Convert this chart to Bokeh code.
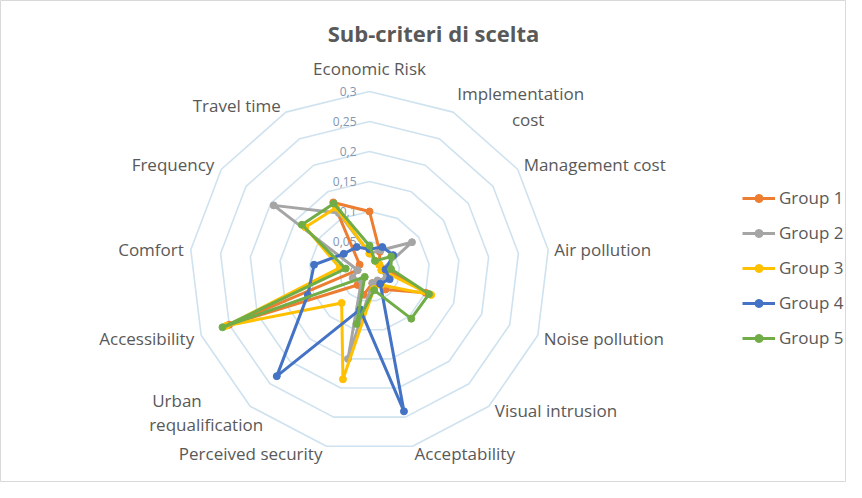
import numpy as np
from bokeh.plotting import figure
from bokeh.models import Range1d, Label, Legend, LegendItem
from bokeh.core.properties import value
from bokeh.embed import file_html
from bokeh.resources import INLINE

title_text = "Sub-criteri di scelta"
categories = ["Economic Risk", "Implementation\ncost", "Management  cost", "Air pollution",
              "Noise pollution", "Visual intrusion", "Acceptability", "Perceived security",
              "Urban\nrequalification", "Accessibility", "Comfort", "Frequency", "Travel time"]
group_names = ["Group 1", "Group 2", "Group 3", "Group 4", "Group 5"]
group_colors = ["#ED7D31", "#A5A5A5", "#FFC000", "#4472C4", "#70AD47"]
tick_values = [0, 0.05, 0.1, 0.15, 0.2, 0.25, 0.3]
tick_labels = ["0", "0,05", "0,1", "0,15", "0,2", "0,25", "0,3"]

#          ER     IC     MC     AP     NP     VI     AC     PS     UR     ACC    COM    FR     TT
group1 = [0.100, 0.037, 0.020, 0.030, 0.100, 0.040, 0.020, 0.040, 0.030, 0.250, 0.020, 0.020, 0.130]
group2 = [0.030, 0.040, 0.086, 0.020, 0.030, 0.020, 0.020, 0.150, 0.020, 0.030, 0.020, 0.194, 0.110]
group3 = [0.030, 0.020, 0.020, 0.020, 0.110, 0.030, 0.030, 0.185, 0.070, 0.255, 0.050, 0.130, 0.120]
group4 = [0.037, 0.046, 0.048, 0.027, 0.036, 0.027, 0.240, 0.065, 0.233, 0.110, 0.093, 0.052, 0.046]
group5 = [0.043, 0.020, 0.044, 0.036, 0.106, 0.105, 0.032, 0.090, 0.012, 0.262, 0.040, 0.137, 0.128]
groups = [group1, group2, group3, group4, group5]

W, H = 846, 482
scale = 600.0  # px per unit
cx_px, cy_px = 369, 271  # centre in figure pixels from top-left

p = figure(width=W, height=H, output_backend="svg", toolbar_location=None,
           x_range=Range1d(-cx_px / scale, (W - cx_px) / scale),
           y_range=Range1d(-(H - cy_px) / scale, cy_px / scale),
           min_border=0, background_fill_color="white", border_fill_color="white")
p.axis.visible = False
p.grid.visible = False
p.outline_line_color = "#d9d9d9"
p.outline_line_width = 1

n = len(categories)
theta = np.arange(n) * 2 * np.pi / n
sx, sy = np.sin(theta), np.cos(theta)

# rings
for tv in tick_values[1:]:
    xs = list(tv * sx) + [tv * sx[0]]
    ys = list(tv * sy) + [tv * sy[0]]
    p.line(xs, ys, line_color="#cfe2ef", line_width=1.6)

# tick labels
p.text(x=[0] * len(tick_values), y=tick_values, text=tick_labels, text_align="right",
       text_baseline="middle", x_offset=-13, text_font=value("Open Sans"),
       text_font_size="12px", text_color="#8496b0")

# category labels: (align, x offset px, y offset px)
label_style = [("center", 0, -23), ("left", 4, 0), ("left", 6, -5), ("left", 6, 0),
               ("left", 6, 3), ("left", 6, 4), ("left", 2, 7), ("right", -4, 7),
               ("left", -98, 0), ("right", -7, 3), ("right", -7, 0), ("right", -7, -5),
               ("right", -5, -7)]
FS = "17px"
rmax = tick_values[-1]
for k, name in enumerate(categories):
    x, y = rmax * sx[k], rmax * sy[k]
    align, xo, yo = label_style[k]
    lines = name.split("\n")
    if len(lines) == 2:
        if sx[k] > 0:
            p.text(x=[x], y=[y], text=[lines[0]], text_align="left", text_baseline="middle",
                   x_offset=xo, y_offset=-19, text_font=value("Open Sans"),
                   text_font_size=FS, text_color="#595959")
            p.text(x=[x], y=[y], text=[lines[1]], text_align="center", text_baseline="middle",
                   x_offset=xo + 71, y_offset=7, text_font=value("Open Sans"),
                   text_font_size=FS, text_color="#595959")
        else:
            p.text(x=[x], y=[y], text=[lines[0]], text_align="left", text_baseline="middle",
                   x_offset=xo, y_offset=-6, text_font=value("Open Sans"),
                   text_font_size=FS, text_color="#595959")
            p.text(x=[x], y=[y], text=[lines[1]], text_align="left", text_baseline="middle",
                   x_offset=xo - 3, y_offset=18, text_font=value("Open Sans"),
                   text_font_size=FS, text_color="#595959")
    else:
        p.text(x=[x], y=[y], text=[name], text_align=align, text_baseline="middle",
               x_offset=xo, y_offset=yo, text_font=value("Open Sans"),
               text_font_size=FS, text_color="#595959")

# series
items = []
for name, col, vals in zip(group_names, group_colors, groups):
    v = np.array(vals)
    xs = list(v * sx) + [v[0] * sx[0]]
    ys = list(v * sy) + [v[0] * sy[0]]
    r1 = p.line(xs, ys, line_color=col, line_width=3, line_join="round")
    r2 = p.scatter(list(v * sx), list(v * sy), size=7, fill_color=col, line_color=col)
    items.append(LegendItem(label=name, renderers=[r1, r2]))

legend = Legend(items=items, location=(742, 133), orientation="vertical",
                label_text_font="Open Sans", label_text_font_size="17px",
                label_text_color="#595959", glyph_width=33, glyph_height=20,
                label_height=20, spacing=12, padding=0, margin=0, label_standoff=4,
                background_fill_alpha=0, border_line_alpha=0)
p.add_layout(legend, "center")

p.add_layout(Label(x=433, y=450, x_units="screen", y_units="screen", text=title_text,
                   text_align="center", text_baseline="middle",
                   text_font="Open Sans", text_font_style="bold",
                   text_font_size="22px", text_color="#595959"))

open("out.html", "w").write(file_html(p, INLINE))
